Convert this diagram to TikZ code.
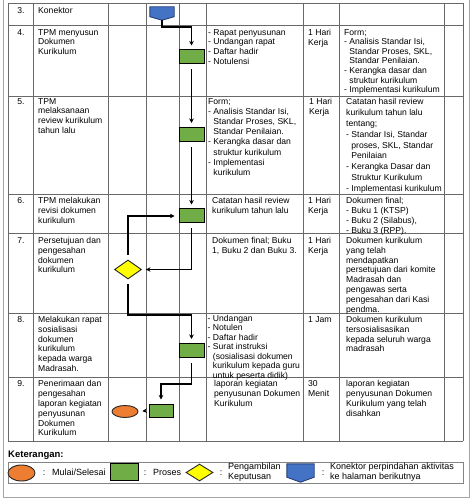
\documentclass[tikz,border=0pt]{standalone}
\usepackage{fontspec}
\setmainfont{Liberation Sans}
\usetikzlibrary{shapes.geometric,arrows.meta,calc}
\definecolor{pgreen}{RGB}{112,173,71}
\definecolor{porange}{RGB}{237,125,49}
\definecolor{pyellow}{RGB}{255,255,0}
\definecolor{pblue}{RGB}{68,114,196}
\definecolor{pbluedark}{RGB}{38,62,120}
\definecolor{tblline}{RGB}{105,105,105}
\definecolor{frameline}{RGB}{165,165,165}
\newcommand{\hind}{\hphantom{-~}}
\begin{document}
\begin{tikzpicture}[x=1pt,y=-1pt,
  txt/.style={anchor=north west,inner sep=0pt,align=left,font=\fontsize{8.6}{9.8}\selectfont},
  num/.style={anchor=north,inner sep=0pt,font=\fontsize{8.6}{9.8}\selectfont},
  proc/.style={draw=black,line width=1pt,fill=pgreen,minimum width=25pt,minimum height=14pt,inner sep=0pt},
  dec/.style={diamond,draw=black!85,line width=0.9pt,fill=pyellow,minimum width=27pt,minimum height=19pt,inner sep=0pt},
  term/.style={ellipse,draw=black!85,line width=0.9pt,fill=porange,minimum width=26pt,minimum height=12pt,inner sep=0pt},
  connbox/.style={inner sep=0pt,minimum width=24pt,minimum height=13pt},
  connshape/.style={draw=pbluedark,line width=0.9pt,fill=pblue},
  flow/.style={draw=black,line width=1.1pt,-{Stealth[length=4.5pt,width=4.5pt]},shorten <=5pt,shorten >=4pt},
  gridline/.style={draw=tblline,line width=0.8pt},
  lgd/.style={anchor=west,inner sep=0pt,align=left,font=\fontsize{9}{10}\selectfont},
]
\useasboundingbox (0,0) rectangle (474,502);
\fill[white] (0,0) rectangle (474,502);
% outer frame
\draw[frameline,line width=1pt] (3,-10) -- (3,497) -- (469,497) -- (469,-10);
% table grid
\foreach \yy in {3,25,96,194,233,313,377,441} \draw[gridline] (8,\yy) -- (463,\yy);
\foreach \xx in {8,33,108,146,179,206,303,339,444,463} \draw[gridline] (\xx,3) -- (\xx,441);

% Row 3
\node[num] (n3) at (21,7) {3.};
\node[txt] (a3) at (38,7) {Konektor};
\node[connbox] (con) at (162,13.5) {};
\draw[connshape] (con.north west) -- (con.north east) -- ([yshift=3.5pt]con.south east) -- (con.south) -- ([yshift=3.5pt]con.south west) -- cycle;

% Row 4
\node[num] (n4) at (21,29) {4.};
\node[txt] (a4) at (38,29) {TPM menyusun\\Dokumen\\Kurikulum};
\node[txt] (c4) at (208,29) {- Rapat penyusunan\\- Undangan rapat\\- Daftar hadir\\- Notulensi};
\node[txt] (w4) at (308,29) {1 Hari\\Kerja};
\node[txt,font=\fontsize{8.6}{9.6}\selectfont] (o4) at (344,29) {Form;\\- Analisis Standar Isi,\\\hind Standar Proses, SKL,\\\hind Standar Penilaian.\\- Kerangka dasar dan\\\hind struktur kurikulum\\- Implementasi kurikulum};
\node[proc] (b4) at (191.5,57) {};

% Row 5
\node[num] (n5) at (21,98) {5.};
\node[txt] (a5) at (38,98) {TPM\\melaksanaan\\review kurikulum\\tahun lalu};
\node[txt,font=\fontsize{8.6}{10.2}\selectfont] (c5) at (208,98) {Form;\\- Analisis Standar Isi,\\\hind Standar Proses, SKL,\\\hind Standar Penilaian.\\- Kerangka dasar dan\\\hind struktur kurikulum\\- Implementasi\\\hind kurikulum};
\node[txt] (w5) at (309,98) {1 Hari\\Kerja};
\node[txt,font=\fontsize{8.6}{10.9}\selectfont] (o5) at (346,98) {Catatan hasil review\\kurikulum tahun lalu\\tentang;\\- Standar Isi, Standar\\\hind proses, SKL, Standar\\\hind Penilaian\\- Kerangka Dasar dan\\\hind Struktur Kurikulum\\- Implementasi kurikulum};
\node[proc] (b5) at (191.5,134.5) {};

% Row 6
\node[num] (n6) at (21,197.5) {6.};
\node[txt] (a6) at (38,197.5) {TPM melakukan\\revisi dokumen\\kurikulum};
\node[txt] (c6) at (212,197.5) {Catatan hasil review\\kurikulum tahun lalu};
\node[txt] (w6) at (308,197.5) {1 Hari\\Kerja};
\node[txt] (o6) at (346,197.5) {Dokumen final;\\- Buku 1 (KTSP)\\- Buku 2 (Silabus),\\- Buku 3 (RPP).};
\node[proc] (b6) at (191.5,216) {};

% Row 7
\node[num] (n7) at (21,237) {7.};
\node[txt] (a7) at (38,237) {Persetujuan dan\\pengesahan\\dokumen\\kurikulum};
\node[txt] (c7) at (212,237) {Dokumen final; Buku\\1, Buku 2 dan Buku 3.};
\node[txt] (w7) at (308,237) {1 Hari\\Kerja};
\node[txt] (o7) at (346,237) {Dokumen kurikulum\\yang telah\\mendapatkan\\persetujuan dari komite\\Madrasah dan\\pengawas serta\\pengesahan dari Kasi\\pendma.};
\node[dec] (d7) at (128,269.5) {};

% Row 8
\node[num] (n8) at (21,316) {8.};
\node[txt] (a8) at (38,316) {Melakukan rapat\\sosialisasi\\dokumen\\kurikulum\\kepada warga\\Madrasah.};
\node[txt,font=\fontsize{8.6}{9.5}\selectfont] (c8) at (207.5,315) {- Undangan\\- Notulen\\- Daftar hadir\\- Surat instruksi\\\hind (sosialisasi dokumen\\\hind kurikulum kepada guru\\\hind untuk peserta didik)};
\node[txt] (w8) at (308,316) {1 Jam};
\node[txt] (o8) at (346,316) {Dokumen kurikulum\\tersosialisasikan\\kepada seluruh warga\\madrasah};
\node[proc] (b8) at (191.5,350.5) {};

% Row 9
\node[num] (n9) at (21,380.5) {9.};
\node[txt] (a9) at (38,380.5) {Penerimaan dan\\pengesahan\\laporan kegiatan\\penyusunan\\Dokumen\\Kurikulum};
\node[txt] (c9) at (214,380.5) {laporan kegiatan\\penyusunan Dokumen\\Kurikulum};
\node[txt] (w9) at (308,380.5) {30\\Menit};
\node[txt] (o9) at (346,380.5) {laporan kegiatan\\penyusunan Dokumen\\Kurikulum yang telah\\disahkan};
\node[proc,minimum width=24pt,minimum height=13pt] (b9) at (161,410.5) {};
\node[term] (e9) at (125,411.5) {};

% Flow connectors
\coordinate (k1) at (162,27);
\draw[flow,shorten <=0pt] (con.south) -- (k1) -| (b4.north);
\draw[flow] (b4.south) -- (b5.north);
\draw[flow] (b5.south) -- (b6.north);
\draw[flow] (b6.south) |- (d7.east);
\draw[flow] (d7.north) |- (b6.west);
\coordinate (k2) at (128,315);
\draw[flow] (d7.south) -- (k2) -| (b8.north);
\coordinate (k3) at (191.5,384);
\draw[flow] (b8.south) -- (k3) -| (b9.north);
\draw[flow] (b9.west) -- (e9.east);

% Legend
\node[anchor=west,inner sep=0pt,font=\fontsize{9.5}{11}\selectfont\bfseries] (ket) at (8,455) {Keterangan:};
\draw[draw=frameline!80!black,line width=0.8pt] (8,462) rectangle (463,483);
\node[term,minimum width=27pt,minimum height=16pt] (le) at (21.5,473) {};
\node[lgd,anchor=center] (lc1) at (44,473) {:};
\node[lgd] (lt1) at (52,472.5) {Mulai/Selesai};
\node[proc,minimum width=28pt,minimum height=17pt] (lp) at (124,471.5) {};
\node[lgd,anchor=center] (lc2) at (145,473) {:};
\node[lgd] (lt2) at (153,472.5) {Proses};
\node[dec,minimum width=27pt,minimum height=17pt] (ld) at (199.5,472.5) {};
\node[lgd,anchor=center] (lc3) at (221,473) {:};
\node[lgd] (lt3) at (228,472.5) {Pengambilan\\Keputusan};
\node[connbox,minimum width=27pt,minimum height=18pt] (lk) at (300.5,473) {};
\draw[connshape] (lk.north west) -- (lk.north east) -- ([yshift=5pt]lk.south east) -- (lk.south) -- ([yshift=5pt]lk.south west) -- cycle;
\node[lgd,anchor=center] (lc4) at (323,473) {:};
\node[lgd] (lt4) at (330,472.5) {Konektor perpindahan aktivitas\\ke halaman berikutnya};
\end{tikzpicture}
\end{document}
